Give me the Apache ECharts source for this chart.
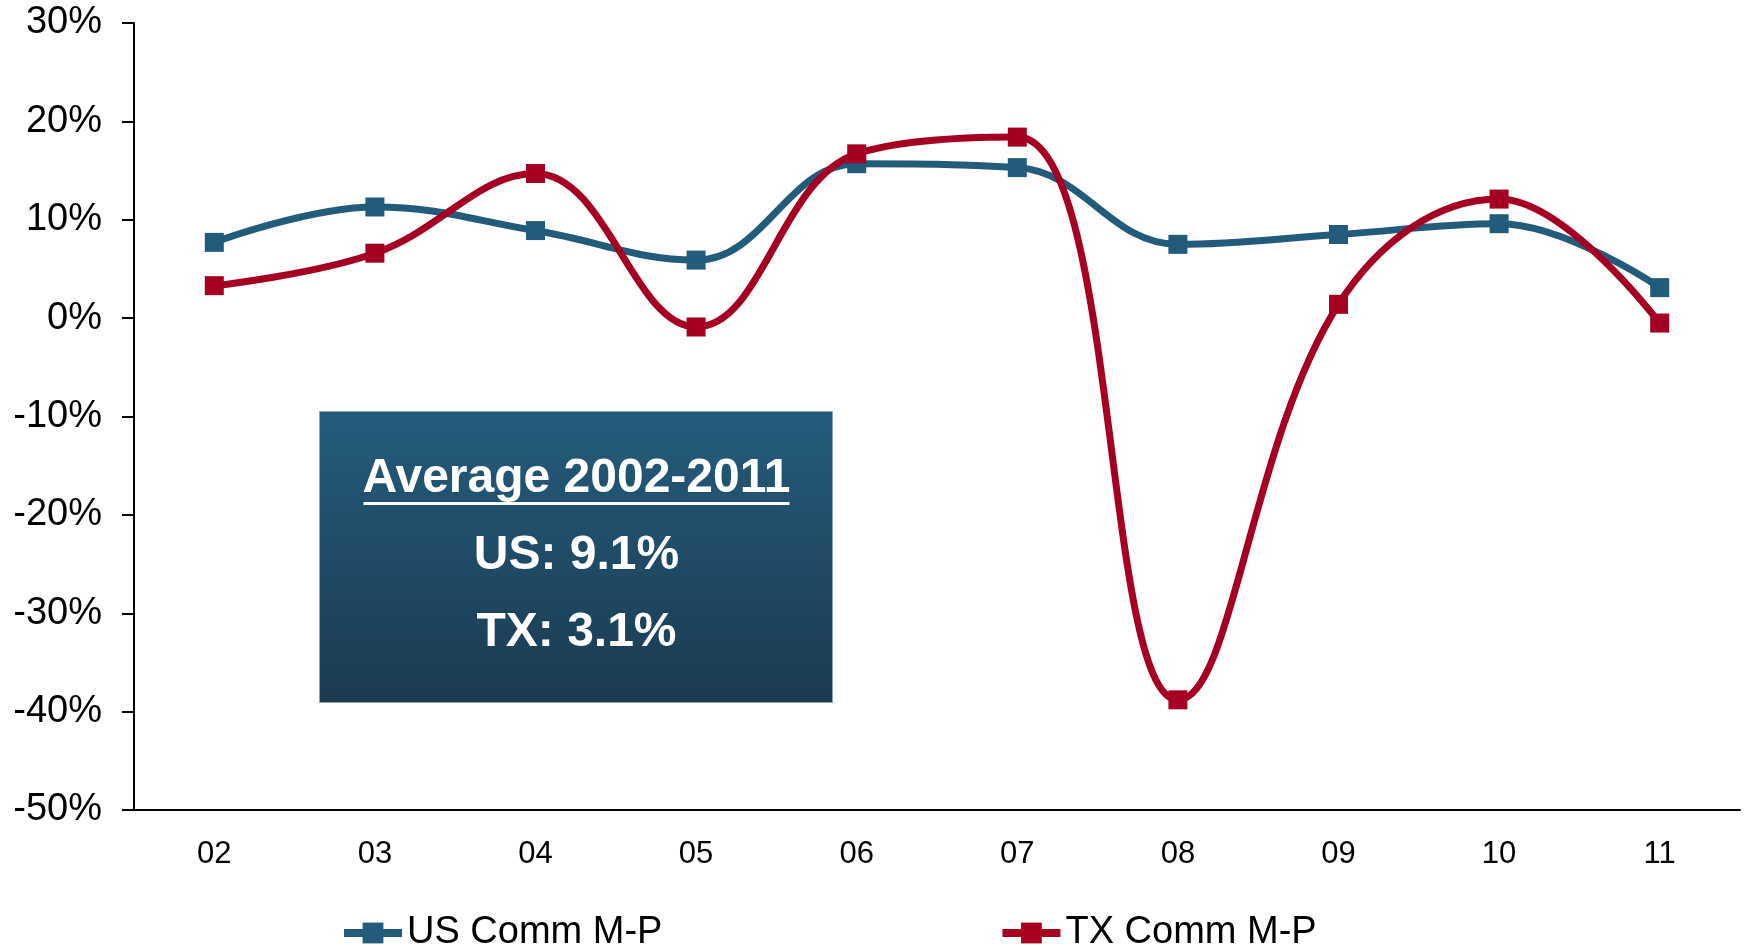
<!DOCTYPE html>
<html>
<head>
<meta charset="utf-8">
<script src="https://cdn.jsdelivr.net/npm/echarts@6/dist/echarts.min.js"></script>
<style>
  html, body { margin: 0; padding: 0; background: #fff; }
  #chart { width: 1744px; height: 948px; }
</style>
</head>
<body>
<div id="chart"></div>
<script>
// categories (years)
const years = ['02', '03', '04', '05', '06', '07', '08', '09', '10', '11']
// annual change, %
const usComm = [7.7, 11.3, 8.9, 5.9, 15.7, 15.3, 7.5, 8.5, 9.6, 3.1]
const txComm = [3.3, 6.6, 14.7, -0.9, 16.7, 18.4, -38.8, 1.4, 12.1, -0.5]
const seriesNames = ['US Comm M-P', 'TX Comm M-P']
const boxLines = ['Average 2002-2011', 'US: 9.1%', 'TX: 3.1%']

const blue = '#235b7a'
const red = '#a50021'
const font = 'Liberation Sans, Arial, sans-serif'

const chart = echarts.init(document.getElementById('chart'))

function makeSeries(name, data, color) {
  return {
    name: name,
    type: 'line',
    smooth: 0.4,
    symbol: 'rect',
    symbolSize: 19,
    itemStyle: { color: color },
    lineStyle: { color: color, width: 7 },
    data: data
  }
}

const option = {
  animation: false,
  grid: { left: 134, right: 4, top: 23, bottom: 138 },
  legend: {
    left: 335,
    top: 909,
    itemWidth: 58,
    itemHeight: 26,
    itemGap: 336,
    lineStyle: { width: 8 },
    textStyle: { fontFamily: font, fontSize: 38, color: '#000' },
    data: seriesNames
  },
  xAxis: {
    type: 'category',
    data: years,
    boundaryGap: true,
    axisLine: { onZero: false, lineStyle: { color: '#000', width: 2 } },
    axisTick: { length: 11, lineStyle: { color: '#000', width: 2 } },
    axisLabel: { fontFamily: font, fontSize: 31, color: '#000', margin: 29 }
  },
  yAxis: {
    type: 'value',
    min: -50,
    max: 30,
    interval: 10,
    splitLine: { show: false },
    axisLine: { show: true, lineStyle: { color: '#000', width: 2 } },
    axisTick: { show: true, length: 12, lineStyle: { color: '#000', width: 2 } },
    axisLabel: {
      fontFamily: font, fontSize: 38, color: '#000', margin: 32,
      formatter: '{value}%'
    }
  },
  graphic: [
    {
      type: 'group',
      left: 319,
      top: 411,
      children: [
        {
          type: 'rect',
          shape: { x: 0, y: 0, width: 513, height: 291 },
          style: {
            fill: new echarts.graphic.LinearGradient(0, 0, 0, 1, [
              { offset: 0, color: '#245c7c' },
              { offset: 1, color: '#1b3a50' }
            ]),
            stroke: '#8aa3b5',
            lineWidth: 1
          }
        },
        {
          type: 'text',
          x: 257, y: 67,
          style: {
            text: boxLines[0], fill: '#fff', fontFamily: font, fontSize: 48,
            fontWeight: 'bold', align: 'center', verticalAlign: 'middle'
          }
        },
        {
          type: 'line',
          shape: { x1: 44, y1: 92, x2: 470, y2: 92 },
          style: { stroke: '#fff', lineWidth: 3 }
        },
        {
          type: 'text',
          x: 257, y: 144,
          style: {
            text: boxLines[1], fill: '#fff', fontFamily: font, fontSize: 48,
            fontWeight: 'bold', align: 'center', verticalAlign: 'middle'
          }
        },
        {
          type: 'text',
          x: 257, y: 221,
          style: {
            text: boxLines[2], fill: '#fff', fontFamily: font, fontSize: 48,
            fontWeight: 'bold', align: 'center', verticalAlign: 'middle'
          }
        }
      ]
    }
  ],
  series: [
    makeSeries(seriesNames[0], usComm, blue),
    makeSeries(seriesNames[1], txComm, red)
  ]
}

chart.setOption(option)
</script>
</body>
</html>
